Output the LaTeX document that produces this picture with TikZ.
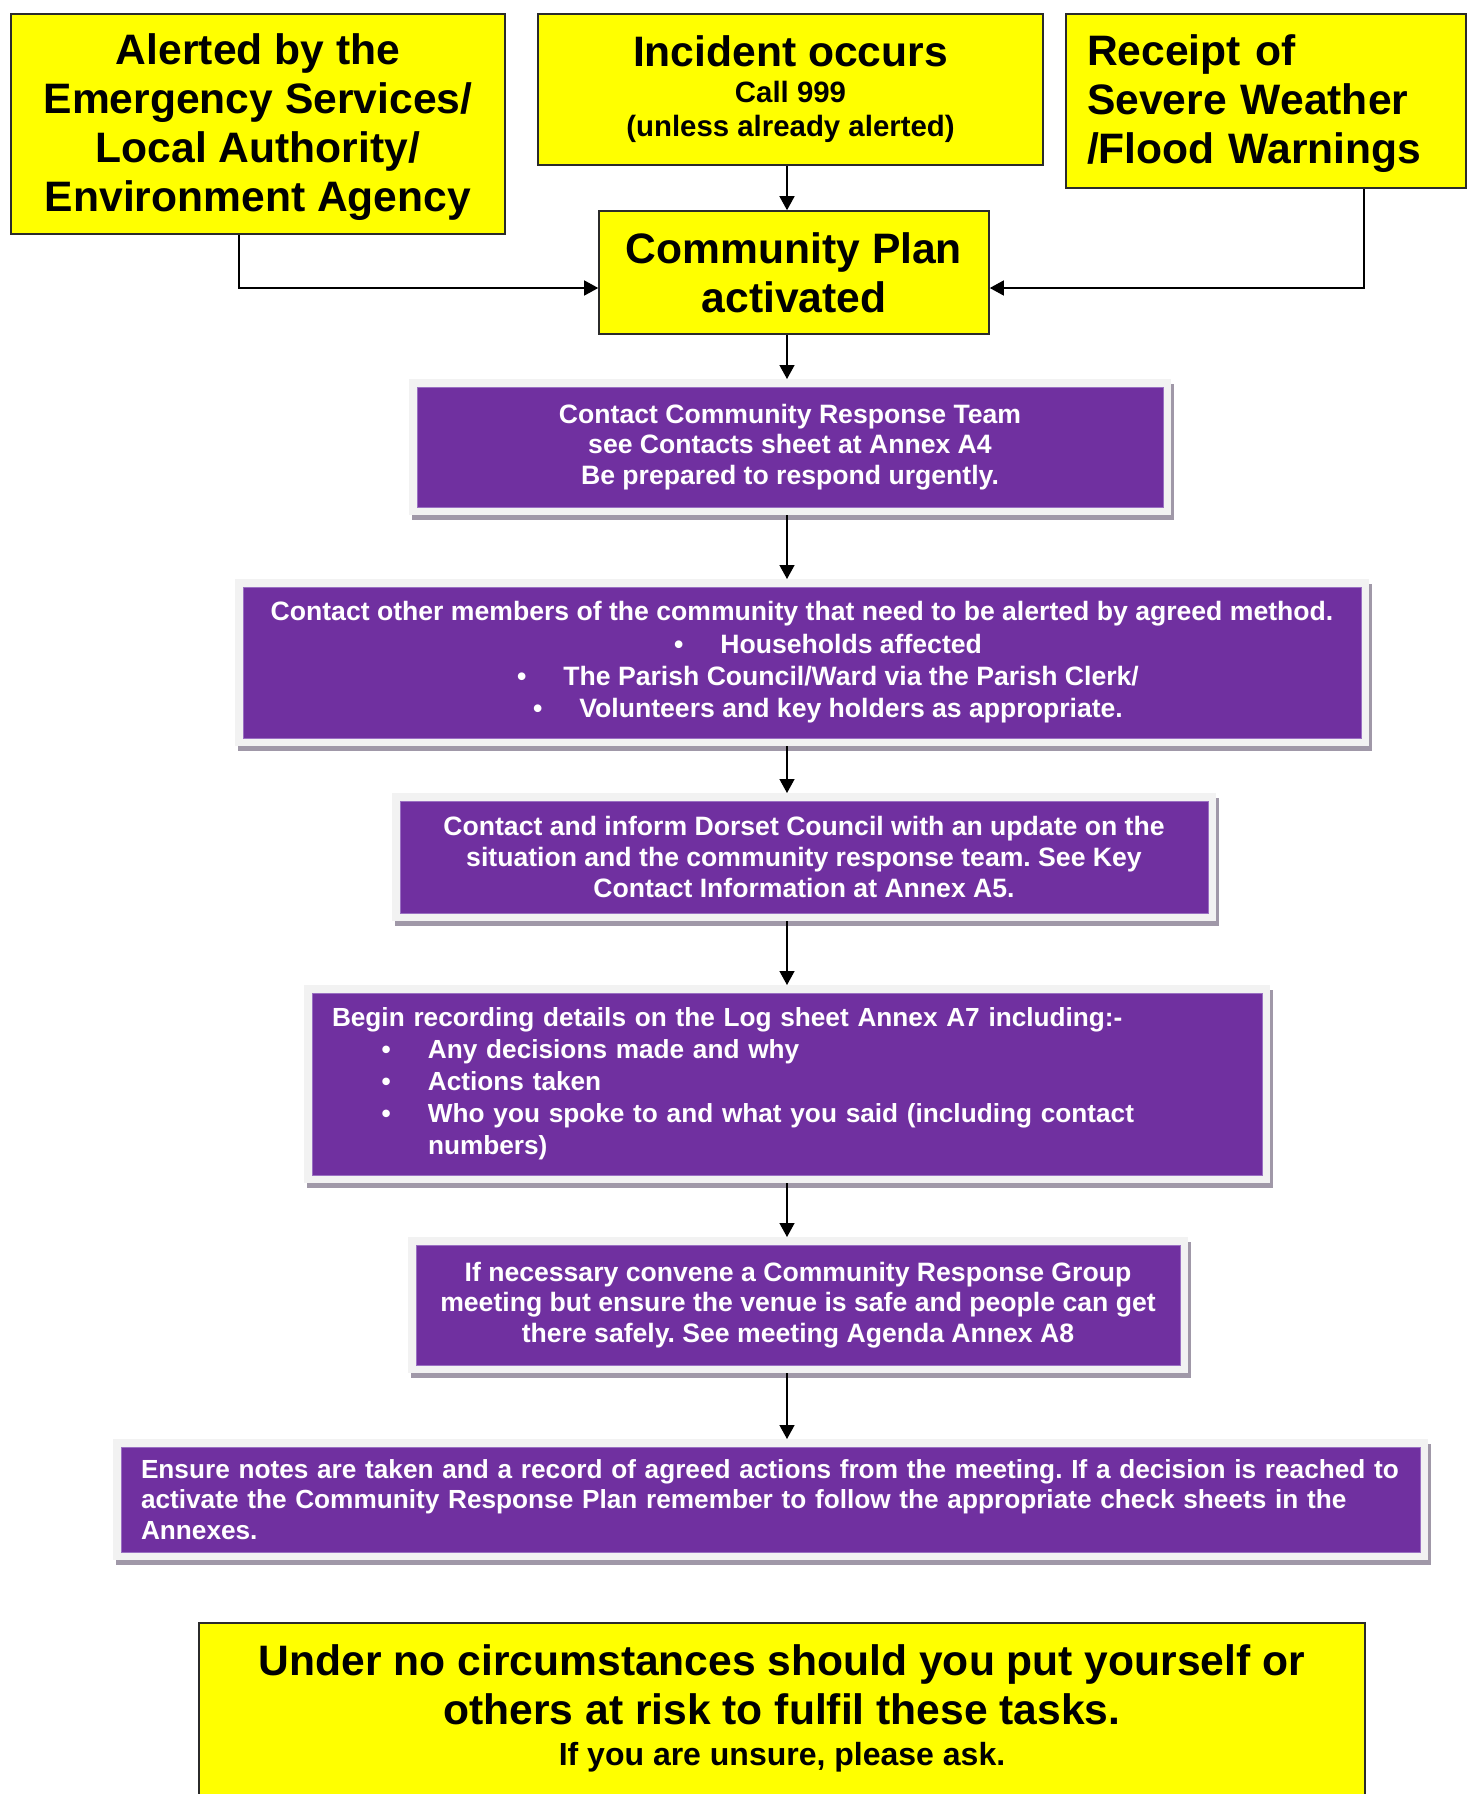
\documentclass[tikz,border=0pt]{standalone}
\usepackage{fontspec}
\setmainfont{Liberation Sans}
\usepackage{xcolor}
\usetikzlibrary{arrows.meta}
\frenchspacing

\definecolor{alertyellow}{HTML}{FFFF00}
\definecolor{alertedge}{HTML}{2B2B2B}
\definecolor{taskpurple}{HTML}{7030A0}
\definecolor{taskedge}{HTML}{9A70C2}
\definecolor{taskpanel}{HTML}{F2F2F2}
\definecolor{taskshadow}{HTML}{A098A8}

\newcommand{\itembul}{\textbullet\hspace{18.5pt}}
\newcommand{\logbul}{\makebox[48pt][l]{\hspace{24.8pt}\textbullet}}

\begin{document}
\begin{tikzpicture}[x=0.5pt,y=-0.5pt,>={Triangle[length=7pt,width=7.5pt]},line width=0.7pt]
  \tikzstyle{alert}=[draw=alertedge,line width=0.8pt,fill=alertyellow,inner sep=0pt,align=center,
    font=\bfseries\fontsize{21.3}{24.5}\selectfont]
  \tikzstyle{task}=[fill=taskpurple,draw=taskedge,line width=0.5pt,text=white,inner sep=0pt,outer sep=4pt,
    align=center,font=\bfseries\fontsize{13.3}{15.4}\selectfont,
    preaction={draw=taskshadow,line width=8pt,transform canvas={shift={(1.5pt,-2.5pt)}}},
    preaction={draw=taskpanel,line width=8pt}]
  \tikzstyle{link}=[->,black,line width=0.7pt]

  \useasboundingbox (0,0) rectangle (1467,1794);

  % the three ways in
  \node[alert,minimum width=247pt,minimum height=110pt] (alerted) at (258,124)
    {\rule{0pt}{18.3pt}Alerted by the\\Emergency Services/\\Local Authority/\\Environment Agency};
  \node[alert,minimum width=252.5pt,minimum height=75.5pt,font=\bfseries\fontsize{14.7}{17.2}\selectfont] (incident) at (790.5,89.5)
    {{\fontsize{21.3}{24}\selectfont Incident occurs}\\[0.5pt]Call 999\\(unless already alerted)};
  \node[alert,minimum width=200pt,minimum height=87pt,text width=179pt,inner xsep=10.5pt,align=left] (receipt) at (1266,101)
    {\rule{0pt}{18.4pt}Receipt of\\Severe Weather\\/Flood Warnings};

  \node[alert,minimum width=195pt,minimum height=61.5pt] (plan) at (794,272.5)
    {Community Plan\\activated};

  % the steps
  \node[task,minimum width=373pt,minimum height=60pt] (contact) at (790,447)
    {Contact Community Response Team\\see Contacts sheet at Annex A4\\Be prepared to respond urgently.};
  \node[task,minimum width=559pt,minimum height=75.5pt,font=\bfseries\fontsize{13.3}{16.2}\selectfont] (community) at (802,662.5)
    {Contact other members of the community that need to be alerted by agreed method.\\
     \hspace*{26pt}\itembul Households affected\\
     \hspace*{26pt}\itembul The Parish Council/Ward via the Parish Clerk/\\
     \hspace*{26pt}\itembul Volunteers and key holders as appropriate.};
  \node[task,minimum width=404pt,minimum height=56pt] (council) at (804,857)
    {Contact and inform Dorset Council with an update on the\\situation and the community response team. See Key\\Contact Information at Annex A5.};
  \node[task,minimum width=475pt,minimum height=91pt,text width=455pt,inner xsep=10pt,align=left,
    font=\bfseries\fontsize{13.1}{16}\selectfont] (logsheet) at (787,1084)
    {Begin recording details on the Log sheet Annex A7 including:-\\
     \logbul Any decisions made and why\\
     \logbul Actions taken\\
     \logbul Who you spoke to and what you said (including contact\\
     \hspace*{48pt}numbers)};
  \node[task,minimum width=382pt,minimum height=60pt] (meeting) at (798,1305)
    {If necessary convene a Community Response Group\\meeting but ensure the venue is safe and people can get\\there safely. See meeting Agenda Annex A8};
  \node[task,minimum width=649.5pt,minimum height=52.5pt,text width=629.5pt,inner xsep=10pt,align=left,
    font=\bfseries\fontsize{13.1}{15.4}\selectfont] (notes) at (770.5,1499.5)
    {Ensure notes are taken and a record of agreed actions from the meeting. If a decision is reached to\\activate the Community Response Plan remember to follow the appropriate check sheets in the\\Annexes.};

  \node[alert,anchor=north,minimum width=583pt,inner ysep=11pt] (warning) at (782,1622)
    {Under no circumstances should you put yourself or\\others at risk to fulfil these tasks.\\[-4.2pt]
     {\fontsize{16}{18}\selectfont If you are unsure, please ask.\rule[-40pt]{0pt}{40pt}}};

  % connectors
  \coordinate (spine) at (787,0);
  \draw[link] ([xshift=-9.5pt]alerted.south) |- ([yshift=-7.75pt]plan.west);
  \draw[link] ([xshift=49pt]receipt.south) |- ([yshift=-7.75pt]plan.east);
  \draw[link] ([xshift=-1.75pt]incident.south) -- ([xshift=-3.5pt]plan.north);
  \draw[link] (plan.south -| spine) -- (contact.north -| spine);
  \foreach \a/\b in {contact/community,community/council,council/logsheet,logsheet/meeting,meeting/notes}
    \draw[link] (\a.south -| spine) -- (\b.north -| spine);
\end{tikzpicture}
\end{document}
